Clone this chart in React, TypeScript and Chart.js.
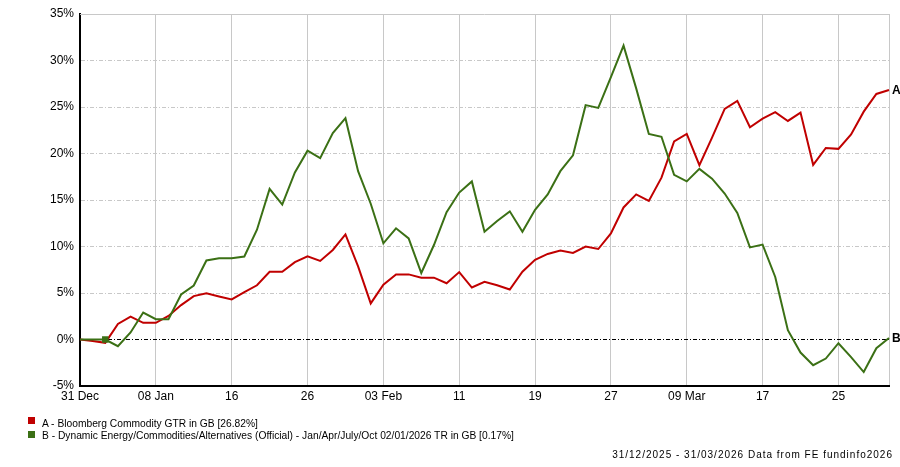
import React, { useEffect, useRef } from 'react';
import { Chart, registerables } from 'chart.js';

Chart.register(...registerables);

// Trading days (weekdays) 31 Dec 2025 – 31 Mar 2026
const dates: string[] = [
  '2025-12-31',
  '2026-01-01', '2026-01-02', '2026-01-05', '2026-01-06', '2026-01-07', '2026-01-08', '2026-01-09',
  '2026-01-12', '2026-01-13', '2026-01-14', '2026-01-15', '2026-01-16',
  '2026-01-19', '2026-01-20', '2026-01-21', '2026-01-22', '2026-01-23',
  '2026-01-26', '2026-01-27', '2026-01-28', '2026-01-29', '2026-01-30',
  '2026-02-02', '2026-02-03', '2026-02-04', '2026-02-05', '2026-02-06',
  '2026-02-09', '2026-02-10', '2026-02-11', '2026-02-12', '2026-02-13',
  '2026-02-16', '2026-02-17', '2026-02-18', '2026-02-19', '2026-02-20',
  '2026-02-23', '2026-02-24', '2026-02-25', '2026-02-26', '2026-02-27',
  '2026-03-02', '2026-03-03', '2026-03-04', '2026-03-05', '2026-03-06',
  '2026-03-09', '2026-03-10', '2026-03-11', '2026-03-12', '2026-03-13',
  '2026-03-16', '2026-03-17', '2026-03-18', '2026-03-19', '2026-03-20',
  '2026-03-23', '2026-03-24', '2026-03-25', '2026-03-26', '2026-03-27',
  '2026-03-30', '2026-03-31',
];

const xTickLabels: Record<string, string> = {
  '2025-12-31': '31 Dec',
  '2026-01-08': '08 Jan',
  '2026-01-16': '16',
  '2026-01-26': '26',
  '2026-02-03': '03 Feb',
  '2026-02-11': '11',
  '2026-02-19': '19',
  '2026-02-27': '27',
  '2026-03-09': '09 Mar',
  '2026-03-17': '17',
  '2026-03-25': '25',
};

const seriesA: number[] = [
  0, -0.15, -0.36, 1.68, 2.47, 1.79, 1.79, 2.53, 3.7, 4.67, 4.96, 4.63, 4.31, 5.09, 5.83, 7.28, 7.28,
  8.32, 8.95, 8.45, 9.63, 11.3, 7.86, 3.88, 5.9, 7.0, 7.0, 6.65, 6.65, 6.05, 7.25, 5.59, 6.2,
  5.83, 5.37, 7.29, 8.56, 9.2, 9.56, 9.31, 10.0, 9.73, 11.4, 14.2, 15.6, 14.9, 17.4, 21.3, 22.1,
  18.75, 21.7, 24.8, 25.66, 22.82, 23.74, 24.45, 23.5, 24.4, 18.78, 20.6, 20.5, 22.04, 24.5, 26.4, 26.82,
];

const seriesB: number[] = [
  0, 0, 0, -0.72, 0.76, 2.9, 2.18, 2.18, 4.84, 5.8, 8.5, 8.74, 8.74, 8.92, 11.8, 16.2, 14.5,
  17.96, 20.3, 19.5, 22.2, 23.8, 18.1, 14.6, 10.34, 11.96, 10.87, 7.15, 10.16, 13.7, 15.8, 17.0, 11.58,
  12.75, 13.78, 11.58, 13.95, 15.6, 18.1, 19.8, 25.2, 24.9, 28.2, 31.6, 27.0, 22.1, 21.8, 17.7, 17.0,
  18.35, 17.3, 15.7, 13.6, 9.9, 10.2, 6.72, 1.0, -1.4, -2.76, -2.05, -0.4, -1.9, -3.5, -0.94, 0.17,
];

const seriesNames = [
  'A - Bloomberg Commodity GTR in GB [26.82%]',
  'B - Dynamic Energy/Commodities/Alternatives (Official) - Jan/Apr/July/Oct 02/01/2026 TR in GB [0.17%]',
];
const endLetters = ['A', 'B'];
const seriesColors = ['#c00000', '#3b7015'];
const launchIndexB = 2;

const yMin = -5;
const yMax = 35;
const yStep = 5;

const footerText = '31/12/2025 - 31/03/2026 Data from FE fundinfo2026';

const FONT = '"Liberation Sans", Arial, sans-serif';

export default function App() {
  const ref = useRef<HTMLCanvasElement>(null);

  useEffect(() => {
    document.body.style.margin = '0';
    const canvas = ref.current;
    if (!canvas) return;

    const topBorder = {
      id: 'topBorder',
      beforeDatasetsDraw(chart: any) {
        const { ctx, chartArea } = chart;
        ctx.save();
        ctx.strokeStyle = '#c8c8c8';
        ctx.lineWidth = 1;
        ctx.setLineDash([]);
        ctx.beginPath();
        const y = Math.floor(chartArea.top) + 0.5;
        ctx.moveTo(chartArea.left, y);
        ctx.lineTo(chartArea.right, y);
        ctx.stroke();
        ctx.restore();
      },
    };

    const endLabels = {
      id: 'endLabels',
      afterDatasetsDraw(chart: any) {
        const { ctx } = chart;
        ctx.save();
        ctx.font = `bold 12px ${FONT}`;
        ctx.fillStyle = '#000';
        ctx.textAlign = 'left';
        ctx.textBaseline = 'middle';
        chart.data.datasets.forEach((_: any, i: number) => {
          const meta = chart.getDatasetMeta(i);
          const pt = meta.data[meta.data.length - 1];
          if (pt) ctx.fillText(endLetters[i], pt.x + 3, pt.y + 1);
        });
        ctx.restore();
      },
    };

    const chart = new Chart(canvas, {
      type: 'line',
      data: {
        labels: dates,
        datasets: [
          {
            label: seriesNames[0],
            data: seriesA,
            borderColor: seriesColors[0],
            backgroundColor: seriesColors[0],
            borderWidth: 2,
            pointRadius: 0,
            tension: 0,
            order: 1,
          },
          {
            label: seriesNames[1],
            data: seriesB,
            borderColor: seriesColors[1],
            backgroundColor: seriesColors[1],
            borderWidth: 2,
            pointStyle: 'rect',
            pointRadius: seriesB.map((_, i) => (i === launchIndexB ? 4.6 : 0)),
            pointBorderWidth: 0,
            tension: 0,
            order: 0,
          },
        ],
      },
      options: {
        responsive: false,
        animation: false,
        events: [],
        layout: { padding: { left: 0, right: 11, top: 14, bottom: 61 } },
        plugins: {
          legend: { display: false },
          tooltip: { enabled: false },
        },
        scales: {
          x: {
            type: 'category',
            offset: false,
            afterFit: (s: any) => {
              s.height = 20;
            },
            grid: {
              color: (c: any) =>
                c.index % 6 === 0 || c.index === dates.length - 1 ? '#c8c8c8' : 'rgba(0,0,0,0)',
              lineWidth: 1,
              drawTicks: false,
            },
            border: { color: '#000', width: 2 },
            ticks: {
              autoSkip: false,
              maxRotation: 0,
              minRotation: 0,
              padding: 3,
              color: '#000',
              font: { family: FONT, size: 12 },
              callback: (_v: any, i: number) => xTickLabels[dates[i]] ?? '',
            },
          },
          y: {
            type: 'linear',
            min: yMin,
            max: yMax,
            afterFit: (s: any) => {
              s.width = 80;
            },
            grid: {
              color: (c: any) => (c.tick && c.tick.value === 0 ? '#000' : '#c8c8c8'),
              lineWidth: 1,
              drawTicks: false,
            },
            border: { color: '#000', width: 2, dash: [4, 2, 1, 2] },
            ticks: {
              stepSize: yStep,
              padding: 6,
              color: '#000',
              font: { family: FONT, size: 12 },
              callback: (v: any) => `${v}%`,
            },
          },
        },
      },
      plugins: [topBorder, endLabels],
    });

    return () => chart.destroy();
  }, []);

  const legendText: React.CSSProperties = {
    position: 'absolute',
    left: 42,
    font: `10.25px ${FONT}`,
    lineHeight: '12px',
    color: '#000',
    whiteSpace: 'nowrap',
  };

  return (
    <div style={{ position: 'relative', width: 900, height: 467, background: '#fff', overflow: 'hidden' }}>
      <canvas ref={ref} width={900} height={467} style={{ display: 'block' }} />
      <span style={{ position: 'absolute', left: 28, top: 417, width: 7, height: 7, background: seriesColors[0] }} />
      <span style={{ ...legendText, top: 418 }}>{seriesNames[0]}</span>
      <span style={{ position: 'absolute', left: 28, top: 430.5, width: 7, height: 7, background: seriesColors[1] }} />
      <span style={{ ...legendText, top: 429.5 }}>{seriesNames[1]}</span>
      <span
        style={{
          position: 'absolute',
          right: 7,
          top: 449,
          font: `10px ${FONT}`,
          letterSpacing: '1px',
          lineHeight: '12px',
          color: '#000',
          whiteSpace: 'nowrap',
        }}
      >
        {footerText}
      </span>
    </div>
  );
}
